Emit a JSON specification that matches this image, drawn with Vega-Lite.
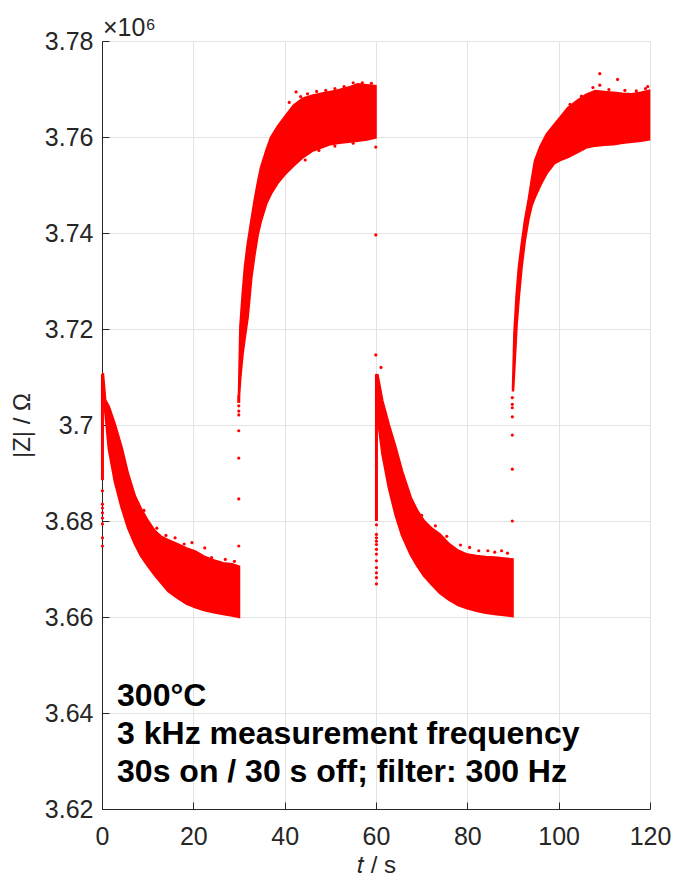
{
  "$schema": "https://vega.github.io/schema/vega-lite/v6.json",
  "width": 548,
  "height": 768,
  "autosize": {"type": "none"},
  "padding": {"left": 102, "top": 41, "right": 27, "bottom": 72},
  "background": "white",
  "title": {"text": "×10⁶", "anchor": "start", "frame": "group", "fontSize": 25, "fontWeight": "normal", "color": "#262626", "font": "Liberation Sans", "offset": -12, "dx": 1},
  "config": {
    "view": {"stroke": null},
    "axis": {
      "labelFont": "Liberation Sans", "labelFontSize": 25, "labelColor": "#262626",
      "labelFlush": false, "labelOverlap": false,
      "titleFont": "Liberation Sans", "titleFontSize": 24, "titleFontWeight": "normal", "titleColor": "#262626",
      "domainColor": "#262626", "domainWidth": 1, "tickColor": "#262626", "tickWidth": 1,
      "gridColor": "#e3e3e3", "gridWidth": 1
    }
  },
  "datasets": {
    "band": [
      {"seg": 1, "t": 0.2, "lo": 3.7085, "hi": 3.7108},
      {"seg": 1, "t": 0.7, "lo": 3.7030, "hi": 3.7052},
      {"seg": 1, "t": 1.5, "lo": 3.6950, "hi": 3.7038},
      {"seg": 1, "t": 2.8, "lo": 3.6883, "hi": 3.7002},
      {"seg": 1, "t": 4.3, "lo": 3.6828, "hi": 3.6953},
      {"seg": 1, "t": 5.7, "lo": 3.6786, "hi": 3.6898},
      {"seg": 1, "t": 7.2, "lo": 3.6752, "hi": 3.6852},
      {"seg": 1, "t": 8.5, "lo": 3.6728, "hi": 3.6826},
      {"seg": 1, "t": 10, "lo": 3.6707, "hi": 3.6801},
      {"seg": 1, "t": 11.5, "lo": 3.6688, "hi": 3.6780},
      {"seg": 1, "t": 13, "lo": 3.6671, "hi": 3.6767},
      {"seg": 1, "t": 14.5, "lo": 3.6654, "hi": 3.6760},
      {"seg": 1, "t": 16.5, "lo": 3.6640, "hi": 3.6752},
      {"seg": 1, "t": 18.5, "lo": 3.6628, "hi": 3.6743},
      {"seg": 1, "t": 20.5, "lo": 3.6620, "hi": 3.6736},
      {"seg": 1, "t": 22.5, "lo": 3.6614, "hi": 3.6725},
      {"seg": 1, "t": 24.5, "lo": 3.6610, "hi": 3.6718},
      {"seg": 1, "t": 26.5, "lo": 3.6606, "hi": 3.6712},
      {"seg": 1, "t": 28.5, "lo": 3.6603, "hi": 3.6710},
      {"seg": 1, "t": 30, "lo": 3.6600, "hi": 3.6705},
      {"seg": 2, "t": 30.0, "lo": 3.7060, "hi": 3.7065},
      {"seg": 2, "t": 30.3, "lo": 3.7100, "hi": 3.7205},
      {"seg": 2, "t": 30.8, "lo": 3.7150, "hi": 3.7272},
      {"seg": 2, "t": 31.3, "lo": 3.7185, "hi": 3.7330},
      {"seg": 2, "t": 31.9, "lo": 3.7225, "hi": 3.7376},
      {"seg": 2, "t": 32.7, "lo": 3.7307, "hi": 3.7425},
      {"seg": 2, "t": 33.4, "lo": 3.7355, "hi": 3.7467},
      {"seg": 2, "t": 34.1, "lo": 3.7397, "hi": 3.7503},
      {"seg": 2, "t": 34.8, "lo": 3.7425, "hi": 3.7536},
      {"seg": 2, "t": 36, "lo": 3.7462, "hi": 3.7572},
      {"seg": 2, "t": 37, "lo": 3.7482, "hi": 3.7599},
      {"seg": 2, "t": 38.5, "lo": 3.7505, "hi": 3.7622},
      {"seg": 2, "t": 40, "lo": 3.7522, "hi": 3.7641},
      {"seg": 2, "t": 42, "lo": 3.7541, "hi": 3.7666},
      {"seg": 2, "t": 44, "lo": 3.7558, "hi": 3.7680},
      {"seg": 2, "t": 46, "lo": 3.7571, "hi": 3.7686},
      {"seg": 2, "t": 48, "lo": 3.7578, "hi": 3.7690},
      {"seg": 2, "t": 50, "lo": 3.7585, "hi": 3.7694},
      {"seg": 2, "t": 52, "lo": 3.7588, "hi": 3.7698},
      {"seg": 2, "t": 54, "lo": 3.7590, "hi": 3.7703},
      {"seg": 2, "t": 56, "lo": 3.7592, "hi": 3.7710},
      {"seg": 2, "t": 58, "lo": 3.7595, "hi": 3.7708},
      {"seg": 2, "t": 59.9, "lo": 3.7599, "hi": 3.7706},
      {"seg": 3, "t": 60.1, "lo": 3.7060, "hi": 3.7100},
      {"seg": 3, "t": 60.3, "lo": 3.7022, "hi": 3.7106},
      {"seg": 3, "t": 61.4, "lo": 3.6940, "hi": 3.7050},
      {"seg": 3, "t": 62.8, "lo": 3.6870, "hi": 3.7001},
      {"seg": 3, "t": 64.3, "lo": 3.6812, "hi": 3.6953},
      {"seg": 3, "t": 65.7, "lo": 3.6770, "hi": 3.6904},
      {"seg": 3, "t": 67.6, "lo": 3.6730, "hi": 3.6849},
      {"seg": 3, "t": 69, "lo": 3.6707, "hi": 3.6822},
      {"seg": 3, "t": 70.5, "lo": 3.6686, "hi": 3.6800},
      {"seg": 3, "t": 72, "lo": 3.6670, "hi": 3.6786},
      {"seg": 3, "t": 74, "lo": 3.6650, "hi": 3.6772},
      {"seg": 3, "t": 76, "lo": 3.6636, "hi": 3.6752},
      {"seg": 3, "t": 78, "lo": 3.6625, "hi": 3.6738},
      {"seg": 3, "t": 80, "lo": 3.6618, "hi": 3.6730},
      {"seg": 3, "t": 82, "lo": 3.6613, "hi": 3.6727},
      {"seg": 3, "t": 84, "lo": 3.6609, "hi": 3.6725},
      {"seg": 3, "t": 86, "lo": 3.6606, "hi": 3.6724},
      {"seg": 3, "t": 88, "lo": 3.6604, "hi": 3.6722},
      {"seg": 3, "t": 89.9, "lo": 3.6602, "hi": 3.6720},
      {"seg": 4, "t": 90.0, "lo": 3.7070, "hi": 3.7076},
      {"seg": 4, "t": 90.3, "lo": 3.7120, "hi": 3.7190},
      {"seg": 4, "t": 90.8, "lo": 3.7210, "hi": 3.7272},
      {"seg": 4, "t": 91.3, "lo": 3.7270, "hi": 3.7330},
      {"seg": 4, "t": 91.9, "lo": 3.7330, "hi": 3.7376},
      {"seg": 4, "t": 92.6, "lo": 3.7385, "hi": 3.7425},
      {"seg": 4, "t": 93.4, "lo": 3.7430, "hi": 3.7467},
      {"seg": 4, "t": 94.1, "lo": 3.7458, "hi": 3.7510},
      {"seg": 4, "t": 94.8, "lo": 3.7475, "hi": 3.7550},
      {"seg": 4, "t": 96, "lo": 3.7500, "hi": 3.7580},
      {"seg": 4, "t": 97.4, "lo": 3.7525, "hi": 3.7606},
      {"seg": 4, "t": 99, "lo": 3.7545, "hi": 3.7625},
      {"seg": 4, "t": 100.3, "lo": 3.7552, "hi": 3.7640},
      {"seg": 4, "t": 102, "lo": 3.7558, "hi": 3.7660},
      {"seg": 4, "t": 104, "lo": 3.7568, "hi": 3.7675},
      {"seg": 4, "t": 106, "lo": 3.7578, "hi": 3.7688},
      {"seg": 4, "t": 108, "lo": 3.7582, "hi": 3.7696},
      {"seg": 4, "t": 110, "lo": 3.7584, "hi": 3.7694},
      {"seg": 4, "t": 112, "lo": 3.7585, "hi": 3.7692},
      {"seg": 4, "t": 114, "lo": 3.7588, "hi": 3.7690},
      {"seg": 4, "t": 116, "lo": 3.7590, "hi": 3.7689},
      {"seg": 4, "t": 118, "lo": 3.7592, "hi": 3.7692},
      {"seg": 4, "t": 119.8, "lo": 3.7595, "hi": 3.7696}
    ],
    "cols": [
      {"t": 0.1, "lo": 3.6885, "hi": 3.7106},
      {"t": 29.95, "lo": 3.7046, "hi": 3.7062},
      {"t": 60.1, "lo": 3.6800, "hi": 3.7106}
    ],
    "pts": [
      {"t": 0.1, "z": 3.6863}, {"t": 0.1, "z": 3.6835}, {"t": 0.1, "z": 3.6827}, {"t": 0.1, "z": 3.6817},
      {"t": 0.1, "z": 3.6806}, {"t": 0.1, "z": 3.6794}, {"t": 0.1, "z": 3.6765}, {"t": 0.1, "z": 3.6748},
      {"t": 29.95, "z": 3.7040}, {"t": 29.95, "z": 3.7029}, {"t": 29.95, "z": 3.7021}, {"t": 29.95, "z": 3.6988},
      {"t": 29.95, "z": 3.6931}, {"t": 29.95, "z": 3.6846}, {"t": 29.95, "z": 3.6748},
      {"t": 59.95, "z": 3.7579}, {"t": 59.95, "z": 3.7396}, {"t": 59.95, "z": 3.7146}, {"t": 61.1, "z": 3.7120},
      {"t": 60.1, "z": 3.6792}, {"t": 60.1, "z": 3.6772}, {"t": 60.1, "z": 3.6765}, {"t": 60.1, "z": 3.6758},
      {"t": 60.1, "z": 3.6751}, {"t": 60.1, "z": 3.6741}, {"t": 60.1, "z": 3.6731}, {"t": 60.1, "z": 3.6717},
      {"t": 60.1, "z": 3.6703}, {"t": 60.1, "z": 3.6692}, {"t": 60.1, "z": 3.6682}, {"t": 60.1, "z": 3.6669},
      {"t": 89.85, "z": 3.6800}, {"t": 89.85, "z": 3.6908}, {"t": 89.85, "z": 3.6979}, {"t": 89.85, "z": 3.7017},
      {"t": 89.85, "z": 3.7036}, {"t": 89.85, "z": 3.7043}, {"t": 89.85, "z": 3.7057},
      {"t": 42.5, "z": 3.7694}, {"t": 45, "z": 3.7690}, {"t": 109.0, "z": 3.7732}, {"t": 109.0, "z": 3.7708},
      {"t": 112.9, "z": 3.7720}, {"t": 107.5, "z": 3.7703}, {"t": 119.5, "z": 3.7705},
      {"t": 19.7, "z": 3.6755}, {"t": 22.5, "z": 3.6744}, {"t": 16, "z": 3.6765},
      {"t": 75.5, "z": 3.6768}, {"t": 80.5, "z": 3.6745}, {"t": 84.5, "z": 3.6738}, {"t": 87.5, "z": 3.6738},
      {"t": 41, "z": 3.7672}, {"t": 43.5, "z": 3.7684}, {"t": 47, "z": 3.7695}, {"t": 49, "z": 3.7697},
      {"t": 51, "z": 3.7701}, {"t": 53, "z": 3.7705}, {"t": 55, "z": 3.7713}, {"t": 57, "z": 3.7713},
      {"t": 59, "z": 3.7712}, {"t": 44.5, "z": 3.7552}, {"t": 47.5, "z": 3.7572}, {"t": 51, "z": 3.7581},
      {"t": 55, "z": 3.7587}, {"t": 102.5, "z": 3.7668}, {"t": 105, "z": 3.7685}, {"t": 111, "z": 3.7699},
      {"t": 114.5, "z": 3.7697}, {"t": 117, "z": 3.7696}, {"t": 119, "z": 3.7701},
      {"t": 9.2, "z": 3.6822}, {"t": 12, "z": 3.6785}, {"t": 14, "z": 3.6770}, {"t": 18, "z": 3.6752},
      {"t": 24, "z": 3.6724}, {"t": 27, "z": 3.6720}, {"t": 29, "z": 3.6716},
      {"t": 70, "z": 3.6812}, {"t": 73, "z": 3.6790}, {"t": 78.5, "z": 3.6750}, {"t": 82.5, "z": 3.6738},
      {"t": 86, "z": 3.6735}, {"t": 88.8, "z": 3.6733}
    ]
  },
  "layer": [
    {
      "data": {"name": "band"},
      "mark": {"type": "area", "color": "#ff0000", "stroke": "#ff0000", "strokeWidth": 2.5, "opacity": 1},
      "encoding": {
        "x": {"field": "t", "type": "quantitative",
              "scale": {"domain": [0, 120], "nice": false, "zero": false},
              "axis": {"values": [0, 20, 40, 60, 80, 100, 120], "title": "𝑡 / s", "grid": true,
                       "labelFontSize": 25, "labelFlush": false,
                       "tickSize": -7, "labelPadding": 22, "titlePadding": 4}},
        "y": {"field": "hi", "type": "quantitative",
              "scale": {"domain": [3.62, 3.78], "nice": false, "zero": false},
              "axis": {"values": [3.62, 3.64, 3.66, 3.68, 3.7, 3.72, 3.74, 3.76, 3.78], "format": ".2~f",
                       "labelFontSize": 25, "labelFlush": false,
                       "title": "|Z| / Ω", "grid": true, "tickSize": -7, "labelPadding": 16, "titlePadding": 10}},
        "y2": {"field": "lo"},
        "detail": {"field": "seg", "type": "nominal"}
      }
    },
    {
      "data": {"name": "cols"},
      "mark": {"type": "rule", "color": "#ff0000", "strokeWidth": 3},
      "encoding": {
        "x": {"field": "t", "type": "quantitative"},
        "y": {"field": "hi", "type": "quantitative"},
        "y2": {"field": "lo"}
      }
    },
    {
      "data": {"name": "pts"},
      "mark": {"type": "circle", "color": "#ff0000", "size": 10, "opacity": 1},
      "encoding": {
        "x": {"field": "t", "type": "quantitative"},
        "y": {"field": "z", "type": "quantitative"}
      }
    },
    {
      "data": {"values": [{}]},
      "mark": {"type": "text", "align": "left", "baseline": "alphabetic", "font": "Liberation Sans",
               "fontSize": 32, "fontWeight": "bold", "color": "#000000", "lineHeight": 38},
      "encoding": {
        "x": {"datum": 3.3, "type": "quantitative"},
        "y": {"datum": 3.6415, "type": "quantitative"},
        "text": {"value": ["300°C", "3 kHz measurement frequency", "30s on / 30 s off; filter: 300 Hz"]}
      }
    }
  ]
}
